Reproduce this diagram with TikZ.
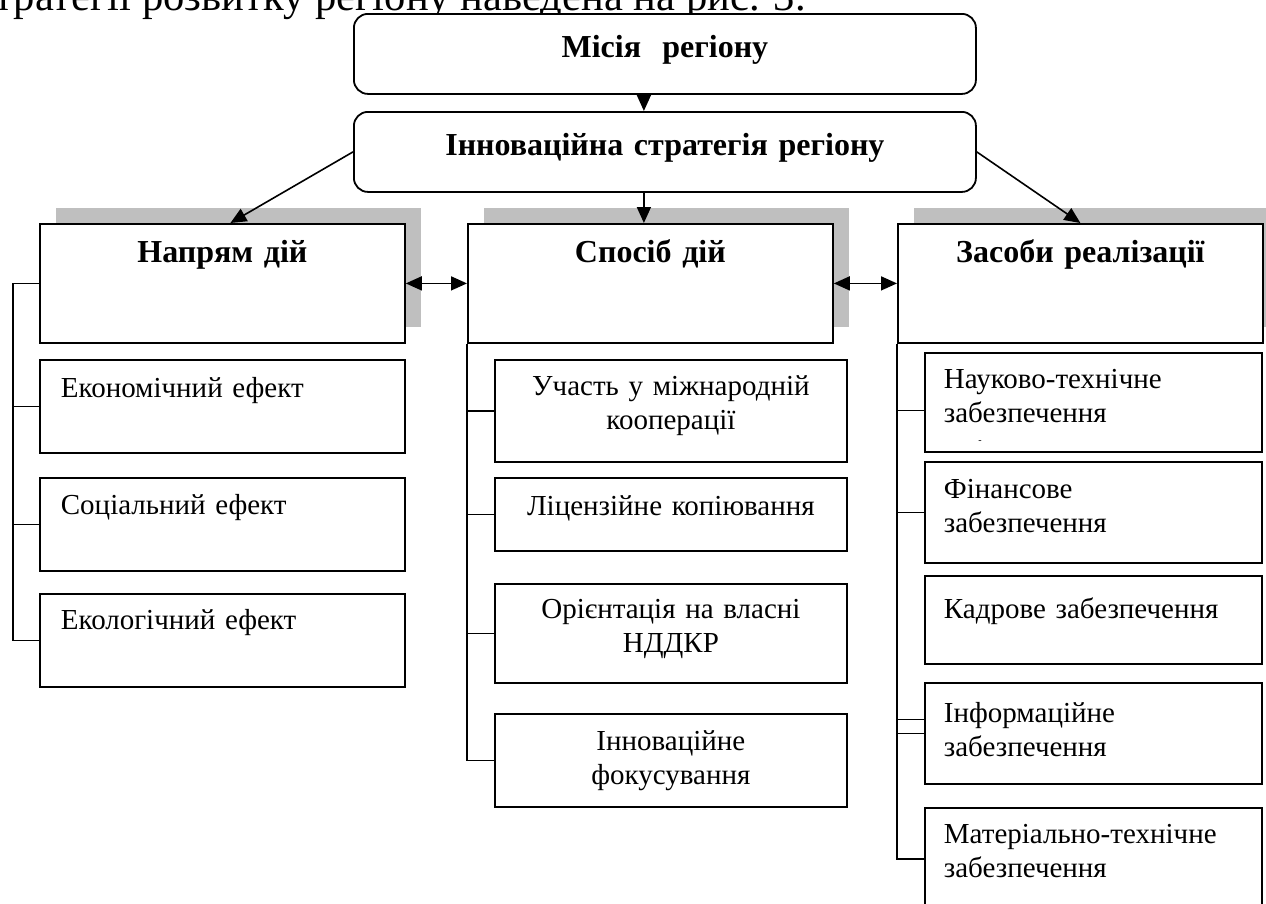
\documentclass[tikz,border=0pt]{standalone}
\usepackage{fontspec}
\setmainfont{Liberation Serif}
\usepackage{tikz}
\usetikzlibrary{arrows.meta,shadows}

\begin{document}
\begin{tikzpicture}[x=1pt,y=-1pt,
	box/.style={draw, fill=white, line width=1.8pt, anchor=north west, inner sep=0pt, font=\fontsize{29}{34}\selectfont},
	topbox/.style={box, rounded corners=14pt, align=center, text width=622pt, text height=44pt, text depth=36pt, font=\fontsize{32}{36}\selectfont\bfseries},
	headbox/.style={box, align=center, text width=365pt, text height=39pt, text depth=80pt, font=\fontsize{32}{36}\selectfont\bfseries,
		drop shadow={shadow xshift=16pt, shadow yshift=16pt, fill=black!25, opacity=1}},
	leftbox/.style={box, align=left, inner xsep=21pt, text width=323pt},
	midbox/.style={box, align=center, text width=352pt},
	rightbox/.style={box, align=left, inner xsep=19pt, text width=299pt},
	link/.style={line width=1.6pt},
	arr/.style={line width=1.6pt, -{Triangle[length=16pt,width=14pt]}},
	dblarr/.style={line width=1.6pt, {Triangle[length=16pt,width=14pt]}-{Triangle[length=16pt,width=14pt]}}]
	\useasboundingbox (0,0) rectangle (1266,903);

	\node[anchor=base east, inner sep=0pt, font=\fontsize{42.6}{43}\selectfont] (intro) at (806,10) {стратегії розвитку регіону наведена на рис. 3.};

	\node[topbox] (mission) at (353,13) {Місія\ \ регіону};
	\node[topbox] (innov) at (353,111) {Інноваційна стратегія регіону};

	\node[headbox] (head1) at (39,223) {Напрям дій};
	\node[headbox] (head2) at (467,223) {Спосіб дій};
	\node[headbox] (head3) at (897,223) {Засоби реалізації};

	% напрям дій
	\node[leftbox, text height=38pt, text depth=55pt] (eco) at (39,359) {Економічний ефект};
	\node[leftbox, text height=37pt, text depth=56pt] (soc) at (39,477) {Соціальний ефект};
	\node[leftbox, text height=36pt, text depth=57pt] (ecol) at (39,593) {Екологічний ефект};

	% спосіб дій
	\node[midbox, text height=36pt, text depth=66pt] (coop) at (494,359) {Участь у міжнародній\\кооперації};
	\node[midbox, text height=38pt, text depth=35pt] (lic) at (494,477) {Ліцензійне копіювання};
	\node[midbox, text height=35pt, text depth=64pt] (rnd) at (494,583) {Орієнтація на власні\\НДДКР};
	\node[midbox, text height=37pt, text depth=56pt] (focus) at (494,713) {Інноваційне\\фокусування};

	% засоби реалізації
	\node[rightbox, text height=36pt, text depth=63pt] (sci) at (924,352) {Науково-технічне\\забезпечення};
	\node[inner sep=0pt, font=\fontsize{10}{10}\selectfont] (scimark) at (980,442) {-};
	\node[rightbox, text height=37pt, text depth=64pt] (fin) at (924,461) {Фінансове\\забезпечення};
	\node[rightbox, text height=43pt, text depth=45pt] (staff) at (924,575) {Кадрове забезпечення};
	\node[rightbox, text height=40pt, text depth=61pt] (info) at (924,682) {Інформаційне\\забезпечення};
	\node[rightbox, text height=36pt, text depth=66pt] (mat) at (924,807) {Матеріально-технічне\\забезпечення};

	\draw[arr] ([xshift=-21pt]mission.south) -- ([xshift=-21pt]innov.north);
	\draw[arr] ([xshift=-21pt]innov.south) -- ([xshift=-21pt]innov.south |- head2.north);
	\draw[arr] (innov.west) -- ([xshift=8pt]head1.north);
	\draw[arr] (innov.east) -- (head3.north);
	\draw[dblarr] (head1.east) -- (head2.west);
	\draw[dblarr] (head2.east) -- (head3.west);

	\draw[link] (head1.west) -- ++(-26,0) coordinate (lbar) |- (ecol.west);
	\foreach \n in {eco,soc}
		\draw[link] (\n.west) -- (\n.west -| lbar);
	\draw[link] (head2.south west) |- (focus.west);
	\foreach \n in {coop,lic,rnd}
		\draw[link] (\n.west) -- (\n.west -| head2.south west);
	\draw[link] (head3.south west) |- (mat.west);
	\draw[link] ([yshift=-8pt]sci.west) -- ([yshift=-8pt]sci.west -| head3.south west);
	\draw[link] (fin.west) -- (fin.west -| head3.south west);
	\draw[link] (info.west) -- (info.west -| head3.south west);
	\draw[link] ([yshift=14pt]info.west) -- ([yshift=14pt]info.west -| head3.south west);

\end{tikzpicture}
\end{document}
